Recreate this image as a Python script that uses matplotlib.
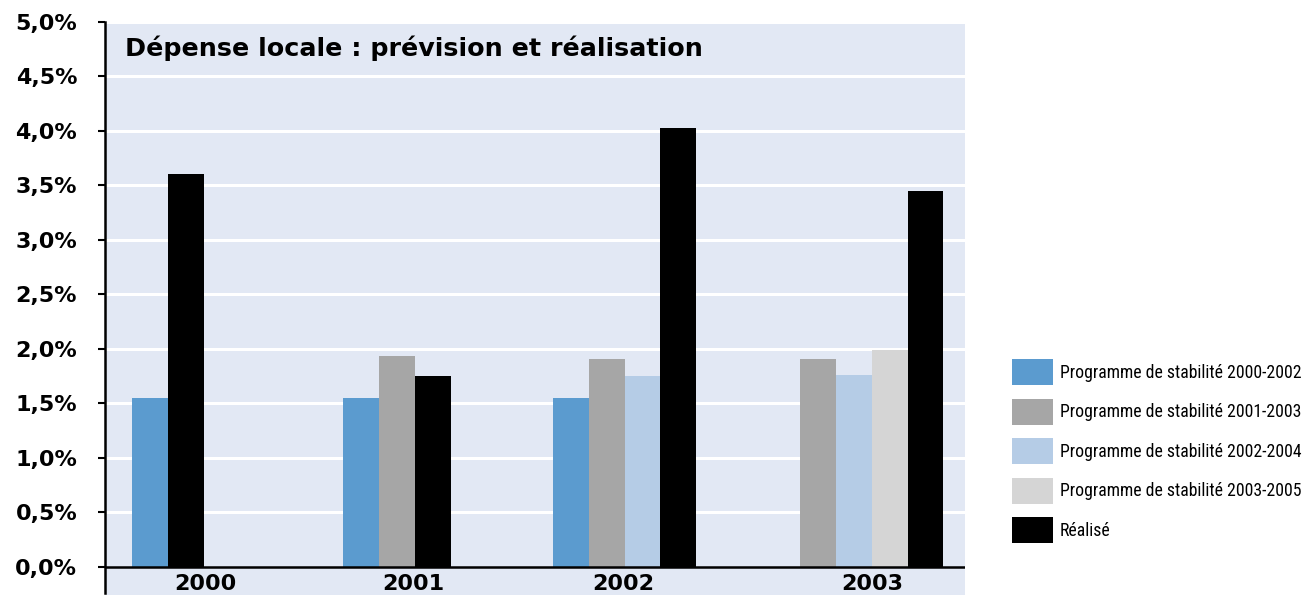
import matplotlib
matplotlib.use("Agg")
import matplotlib.pyplot as plt
from matplotlib.patches import Patch
from matplotlib import font_manager
from matplotlib.font_manager import FontProperties
from matplotlib.textpath import TextPath

# ---- data ----
years = ["2000", "2001", "2002", "2003"]
series_names = [
    "Programme de stabilité 2000-2002",
    "Programme de stabilité 2001-2003",
    "Programme de stabilité 2002-2004",
    "Programme de stabilité 2003-2005",
    "Réalisé",
]
ps_2000_2002 = [1.55, 1.55, 1.55, None]
ps_2001_2003 = [None, 1.94, 1.91, 1.91]
ps_2002_2004 = [None, None, 1.75, 1.76]
ps_2003_2005 = [None, None, None, 1.99]
realise = [3.61, 1.75, 4.03, 3.45]
y_ticks = [0.0, 0.5, 1.0, 1.5, 2.0, 2.5, 3.0, 3.5, 4.0, 4.5, 5.0]
y_tick_labels = ["0,0%", "0,5%", "1,0%", "1,5%", "2,0%", "2,5%", "3,0%", "3,5%", "4,0%", "4,5%", "5,0%"]
title = "Dépense locale : prévision et réalisation"

# ---- style / layout ----
colors = ["#5b9bcf", "#a6a6a6", "#b5cce6", "#d5d5d5", "#000000"]
bg = "#e2e8f4"
group_start = [0.75, 6.65, 12.5, 19.4]   # left edge of first bar in each group (bar-width units)
label_pos = [2.8, 8.6, 14.45, 21.4]
bar_w = 1.0
DPI = 100

all_series = [ps_2000_2002, ps_2001_2003, ps_2002_2004, ps_2003_2005, realise]

# pick a narrow font for the legend if one is installed
entries = font_manager.fontManager.ttflist
names = {f.name for f in entries}
leg_fp = None
for cand in ["Liberation Sans Narrow", "Roboto Condensed", "Open Sans Condensed",
             "Noto Sans Condensed", "DejaVu Sans Condensed"]:
    if cand in names:
        leg_fp = FontProperties(family=cand)
        break
if leg_fp is None:
    for f in entries:
        if f.stretch in ("condensed", "semi-condensed") and f.style == "normal" and f.weight in (400, "normal", "regular"):
            leg_fp = FontProperties(family=f.name, stretch=f.stretch)
            break
if leg_fp is None:
    leg_fp = FontProperties(family="Liberation Sans")

# size the legend font so the longest label is about 238 px wide
w10 = TextPath((0, 0), series_names[0], size=10, prop=leg_fp).get_extents().width
leg_size = min(13.6, 10 * (238 * 72 / DPI) / w10)
leg_fp.set_size(leg_size)
fs_px = leg_size * DPI / 72
patch_h = 26.0
H_px = (patch_h - 0.245 * fs_px) / 0.65

fig = plt.figure(figsize=(13.05, 5.96), dpi=DPI)
fig.patch.set_facecolor("white")
ax = fig.add_axes([105 / 1305, 1 / 596, 860 / 1305, 573 / 596])
ax.set_facecolor(bg)
ax.set_xlim(0, 24)
ax.set_ylim(-0.257, 5.0)

for t in y_ticks[1:]:
    ax.axhline(t, color="white", lw=2.2, zorder=1)

for g in range(len(years)):
    k = 0
    for s, vals in enumerate(all_series):
        v = vals[g]
        if v is None:
            continue
        ax.bar(group_start[g] + k * bar_w, v, width=bar_w, align="edge",
               color=colors[s], zorder=2, linewidth=0)
        k += 1

ax.axhline(0, color="black", lw=1.8, zorder=3)

for sp in ["top", "right", "bottom"]:
    ax.spines[sp].set_visible(False)
ax.spines["left"].set_linewidth(1.8)
ax.spines["left"].set_color("black")
ax.spines["left"].set_bounds(-0.24, 5.0)

ax.set_yticks(y_ticks)
ax.set_yticklabels(y_tick_labels, fontfamily="DejaVu Sans", fontweight="bold", fontsize=16)
ax.tick_params(axis="y", direction="out", length=5, width=1.5, pad=15)

ax.set_xticks(label_pos)
ax.set_xticklabels(years, fontfamily="DejaVu Sans", fontweight="bold", fontsize=16)
ax.tick_params(axis="x", length=0, pad=-15)

ax.text(20 / 860 * 24, 4.76, title, fontfamily="DejaVu Sans", fontweight="bold",
        fontsize=18.3, va="center", ha="left", zorder=4)

handles = [Patch(facecolor=c, edgecolor="none") for c in colors]
leg = fig.legend(handles, series_names, loc="upper left",
                 bbox_to_anchor=(1012 / 1305, 1 - 359 / 596),
                 frameon=False, prop=leg_fp,
                 handlelength=41 / fs_px, handleheight=H_px / fs_px,
                 handletextpad=7 / fs_px, labelspacing=13.5 / fs_px,
                 borderpad=0, borderaxespad=0)

fig.savefig("out.png", dpi=DPI)
